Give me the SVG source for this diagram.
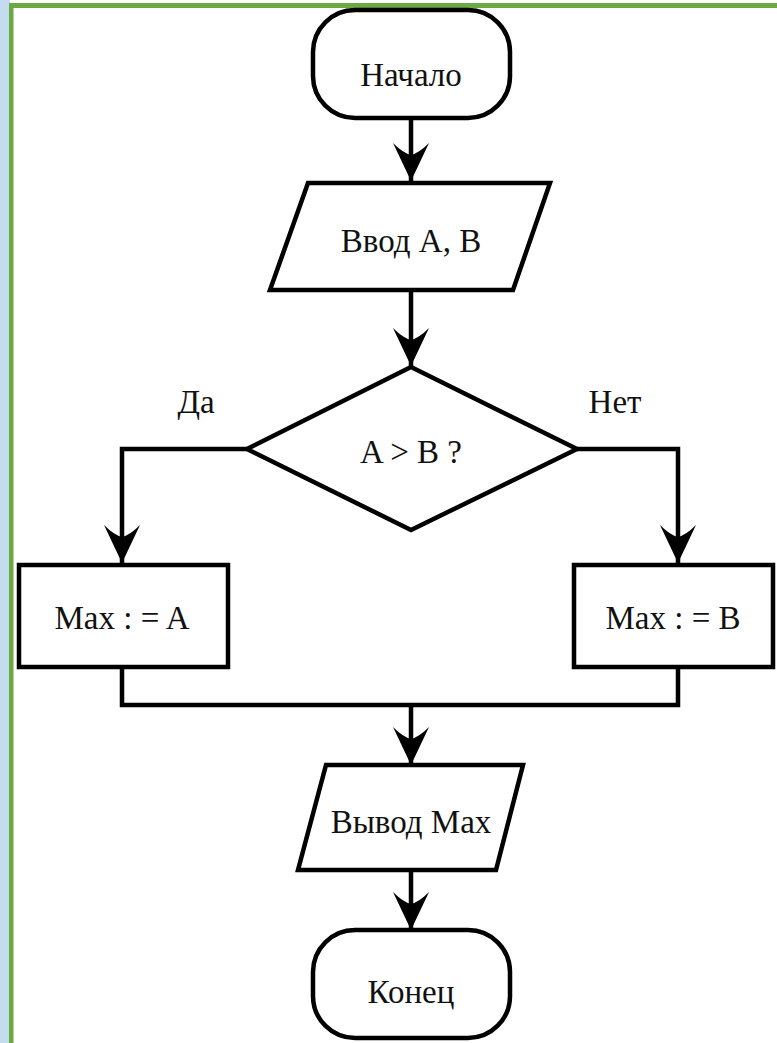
<svg xmlns="http://www.w3.org/2000/svg" width="777" height="1043" viewBox="0 0 777 1043">
  <style>
    .shape { fill: #ffffff; stroke: #000000; stroke-width: 4.5; stroke-linejoin: miter; }
    .conn { fill: none; stroke: #000000; stroke-width: 4.5; }
    .lbl { font-family: 'Liberation Serif', 'DejaVu Serif', 'Times New Roman', serif; font-size: 33px; fill: #111111; text-anchor: middle; }
  </style>
  <defs>
    <marker id="arrow" markerUnits="userSpaceOnUse" markerWidth="44" markerHeight="44" viewBox="-40 -22 44 44" refX="0" refY="0" orient="auto">
      <path d="M0,0 L-38,-18 Q-28,-8 -26,0 Q-28,8 -38,18 Z" fill="#000000"/>
    </marker>
  </defs>
  <rect x="0" y="0" width="777" height="1043" fill="#ffffff"/>
  <g id="frame">
    <rect x="0" y="0" width="10" height="1043" fill="#c4dcf0"/>
    <rect x="9" y="3" width="768" height="5" fill="#6BAA42"/>
    <rect x="9" y="3" width="4.5" height="1040" fill="#6BAA42"/>
  </g>
  <g id="connectors">
    <path class="conn" d="M411,118 L411,181" marker-end="url(#arrow)"/>
    <path class="conn" d="M411,290 L411,366" marker-end="url(#arrow)"/>
    <path class="conn" d="M247,449 L122,449 L122,563" marker-end="url(#arrow)"/>
    <path class="conn" d="M577,449 L678,449 L678,563" marker-end="url(#arrow)"/>
    <path class="conn" d="M122,667 L122,705 L678,705 L678,667"/>
    <path class="conn" d="M411,705 L411,765" marker-end="url(#arrow)"/>
    <path class="conn" d="M411,870 L411,930" marker-end="url(#arrow)"/>
  </g>
  <g id="start">
    <rect class="shape" x="313" y="10" width="197" height="108" rx="42" ry="42"/>
    <text class="lbl" x="411" y="86" font-family="Liberation Serif, serif">Начало</text>
  </g>
  <g id="input">
    <polygon class="shape" points="308,183 550,183 513,290 270,290"/>
    <text class="lbl" x="411" y="252">Ввод A, B</text>
  </g>
  <g id="decision">
    <polygon class="shape" points="411,367 577,449 411,530 247,449"/>
    <text class="lbl" x="411" y="463">A &gt; B ?</text>
  </g>
  <g id="label-yes">
    <text class="lbl" x="196" y="413">Да</text>
  </g>
  <g id="label-no">
    <text class="lbl" x="615" y="413">Нет</text>
  </g>
  <g id="maxA">
    <rect class="shape" x="19" y="565" width="209" height="102"/>
    <text class="lbl" x="122" y="629">Max : = A</text>
  </g>
  <g id="maxB">
    <rect class="shape" x="574" y="565" width="199" height="102"/>
    <text class="lbl" x="673" y="629">Max : = B</text>
  </g>
  <g id="output">
    <polygon class="shape" points="326,765 523,765 496,870 298,870"/>
    <text class="lbl" x="411" y="833">Вывод Max</text>
  </g>
  <g id="end">
    <rect class="shape" x="313" y="930" width="197" height="108" rx="42" ry="42"/>
    <text class="lbl" x="411" y="1003">Конец</text>
  </g>
</svg>
